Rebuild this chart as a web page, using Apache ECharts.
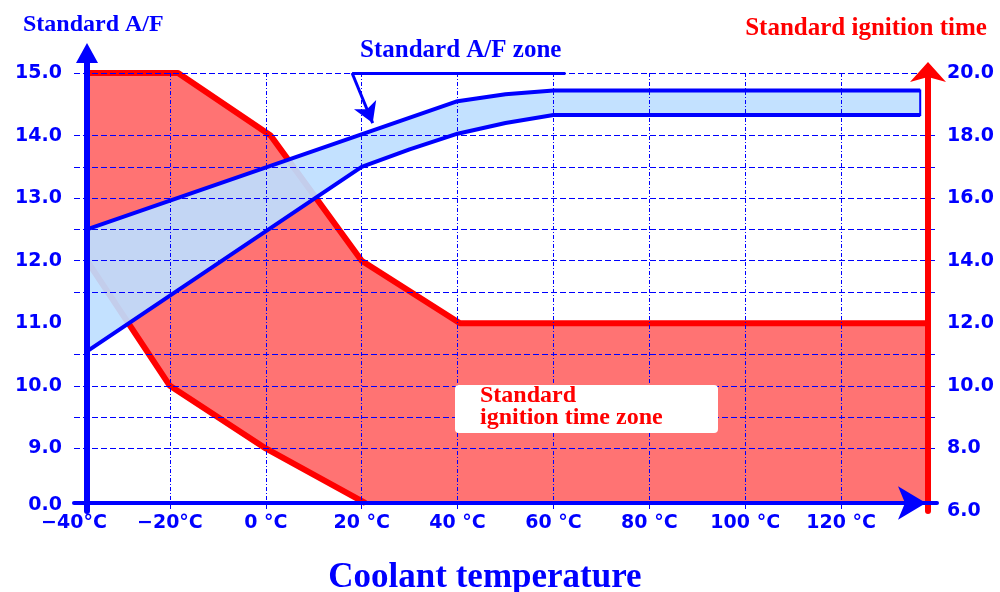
<!DOCTYPE html>
<html><head><meta charset="utf-8">
<script src="https://cdn.jsdelivr.net/npm/echarts@6.0.0/dist/echarts.min.js"></script>
<style>html,body{margin:0;padding:0;background:#fff}#c{width:1000px;height:592px}</style>
</head><body><div id="c"></div>
<script>
// ---- tick values / labels ----
const xTickValues = [-40, -20, 0, 20, 40, 60, 80, 100, 120];
const xTickLabels = ['−40°C', '−20°C', '0 °C', '20 °C', '40 °C', '60 °C', '80 °C', '100 °C', '120 °C'];
const xGridValues = [-20, 0, 20, 40, 60, 80, 100, 120];
const afTickValues = [8.1, 9, 10, 11, 12, 13, 14, 15];
const afTickLabels = ['0.0', '9.0', '10.0', '11.0', '12.0', '13.0', '14.0', '15.0'];
const ignGridValues = [8, 9, 10, 11, 13, 14, 15, 16, 17, 18, 20];
const gridTopAF = 15, gridOvershootAF = 15.53;

// ---- Standard A/F zone (left axis) ----
const afUpperTemp = [-37.3, 40, 50, 60, 136.5];
const afUpper = [12.5, 14.55, 14.66, 14.72, 14.72];
const afLowerTemp = [-37.3, 20, 30, 40, 50, 60, 136.5];
const afLower = [10.55, 13.5, 13.78, 14.03, 14.2, 14.33, 14.33];

// ---- Standard ignition time zone (right axis) ----
const ignUpperTemp = [-37.3, -18.3, 1, 20, 40.5, 138.3];
const ignUpper = [20, 20, 18, 14, 12, 12];
const ignLowerTemp = [-37.3, -20, 0, 20.8, 138.3];
const ignLower = [14, 10, 8, 6.25, 6.25];

// ---- callout for "Standard A/F zone" (left axis units) ----
const calloutStart = [18, 15];
const calloutBarEnd = [62.5, 15];
const calloutArrowEnd = [22.3, 14.2];

const BLUE = '#0000ff', RED = '#ff0000';
const zip = (xs, ys) => xs.map((x, i) => [x, ys[i]]);

function polygonRender(xs1, ys1, xs2, ys2, style) {
  return function (params, api) {
    const pts = [];
    for (let i = 0; i < xs1.length; i++) pts.push(api.coord([xs1[i], ys1[i]]));
    for (let i = xs2.length - 1; i >= 0; i--) pts.push(api.coord([xs2[i], ys2[i]]));
    return { type: 'polygon', shape: { points: pts }, style: style };
  };
}

const labelFont = { color: BLUE, fontFamily: 'DejaVu Sans', fontWeight: 'bold', fontSize: 19 };
const serif = 'Liberation Serif';
const gridExtension = xGridValues.map(x => [{ coord: [x, gridTopAF], symbol: 'none' }, { coord: [x, gridOvershootAF], symbol: 'none' }]);

const chart = echarts.init(document.getElementById('c'), null, { renderer: 'canvas' });
chart.setOption({
  animation: false,
  backgroundColor: '#ffffff',
  grid: { left: 74, right: 63, top: 73, bottom: 81, containLabel: false, outerBoundsMode: 'none' },
  xAxis: {
    type: 'value', min: -40, max: 140, interval: 20, offset: -8, z: 3,
    axisLine: { show: true, onZero: false, lineStyle: { color: BLUE, width: 4 },
      symbol: ['none', 'arrow'], symbolSize: [25, 28], symbolOffset: [0, -11] },
    axisTick: { show: false, customValues: xGridValues },
    splitLine: { show: true, lineStyle: { color: BLUE, width: 1, type: [4, 2, 1, 2] } },
    axisLabel: Object.assign({ customValues: xTickValues, margin: 11,
      formatter: v => xTickLabels[xTickValues.indexOf(Math.round(v))] || '' }, labelFont)
  },
  yAxis: [{
    type: 'value', position: 'left', min: 8, max: 15, offset: -13, z: 3,
    axisLine: { show: true, onZero: false, lineStyle: { color: BLUE, width: 6 },
      symbol: ['none', 'path://M11,0L22,20L14,20L14,30L8,30L8,20L0,20Z'], symbolSize: [22, 30], symbolOffset: [0, 15] },
    axisTick: { show: false },
    splitLine: { show: false },
    axisLabel: Object.assign({ customValues: afTickValues, margin: 25,
      formatter: v => { let k = 0; afTickValues.forEach((t, i) => { if (Math.abs(t - v) < Math.abs(afTickValues[k] - v)) k = i; }); return afTickLabels[k]; } }, labelFont)
  }, {
    type: 'value', position: 'right', min: 6, max: 20, interval: 2, offset: -9, z: 3,
    axisLine: { show: true, onZero: false, lineStyle: { color: RED, width: 6 },
      symbol: ['none', 'arrow'], symbolSize: [27, 20], symbolOffset: [0, 11] },
    axisTick: { show: false, customValues: ignGridValues },
    splitLine: { show: true, lineStyle: { color: BLUE, width: 1, type: [6, 3] } },
    axisLabel: Object.assign({ margin: 19, formatter: v => v.toFixed(1) }, labelFont)
  }],
  series: [
    { type: 'custom', name: 'ignition zone fill', yAxisIndex: 1, z: 1, silent: true, data: [[0, 0]],
      renderItem: polygonRender(ignUpperTemp, ignUpper, ignLowerTemp, ignLower, { fill: 'rgba(255,0,0,0.55)' }) },
    { type: 'line', name: 'ignition upper', yAxisIndex: 1, z: 1, silent: true, symbol: 'none',
      lineStyle: { color: RED, width: 6 }, data: zip(ignUpperTemp, ignUpper) },
    { type: 'line', name: 'ignition lower', yAxisIndex: 1, z: 1, silent: true, symbol: 'none',
      lineStyle: { color: RED, width: 6 }, data: zip(ignLowerTemp.slice(0, 4), ignLower.slice(0, 4)) },
    { type: 'custom', name: 'A/F zone fill', yAxisIndex: 0, z: 2, silent: true, data: [[0, 0]],
      renderItem: polygonRender(afUpperTemp, afUpper, afLowerTemp, afLower,
        { fill: 'rgba(190,222,255,0.92)', stroke: BLUE, lineWidth: 2 }) },
    { type: 'line', name: 'A/F upper', yAxisIndex: 0, z: 2, silent: true, symbol: 'none',
      lineStyle: { color: BLUE, width: 4 }, data: zip(afUpperTemp, afUpper),
      markLine: { silent: true, animation: false, label: { show: false }, emphasis: { disabled: true },
        lineStyle: { color: BLUE, width: 3, type: 'solid' },
        data: [
          [{ coord: calloutStart, symbol: 'none' }, { coord: calloutBarEnd, symbol: 'none' }],
          [{ coord: calloutStart, symbol: 'none' }, { coord: calloutArrowEnd, symbol: 'arrow', symbolSize: [18, 20] }]
        ] } },
    { type: 'line', name: 'A/F lower', yAxisIndex: 0, z: 2, silent: true, symbol: 'none',
      lineStyle: { color: BLUE, width: 4 }, data: zip(afLowerTemp, afLower),
      markLine: { silent: true, animation: false, label: { show: false }, emphasis: { disabled: true },
        lineStyle: { color: BLUE, width: 1, type: [4, 2, 1, 2] }, data: gridExtension } }
  ],
  graphic: [
    { type: 'text', x: 23, y: 25, z: 50, style: { text: 'Standard A/F', fill: BLUE, font: 'bold 24px "' + serif + '"', align: 'left', verticalAlign: 'middle', textAlign: 'left', textVerticalAlign: 'middle' } },
    { type: 'text', x: 866, y: 29, z: 50, style: { text: 'Standard ignition time', fill: RED, font: 'bold 25px "' + serif + '"', align: 'center', verticalAlign: 'middle', textAlign: 'center', textVerticalAlign: 'middle' } },
    { type: 'text', x: 360, y: 51, z: 50, style: { text: 'Standard A/F zone', fill: BLUE, font: 'bold 25px "' + serif + '"', align: 'left', verticalAlign: 'middle', textAlign: 'left', textVerticalAlign: 'middle' } },
    { type: 'rect', z: 50, shape: { x: 455, y: 385, width: 263, height: 48, r: 4 }, style: { fill: '#ffffff' } },
    { type: 'text', x: 480, y: 396, z: 51, style: { text: 'Standard', fill: RED, font: 'bold 24px "' + serif + '"', align: 'left', verticalAlign: 'middle', textAlign: 'left', textVerticalAlign: 'middle' } },
    { type: 'text', x: 480, y: 418, z: 51, style: { text: 'ignition time zone', fill: RED, font: 'bold 24px "' + serif + '"', align: 'left', verticalAlign: 'middle', textAlign: 'left', textVerticalAlign: 'middle' } },
    { type: 'text', x: 485, y: 578, z: 50, style: { text: 'Coolant temperature', fill: BLUE, font: 'bold 35px "' + serif + '"', align: 'center', verticalAlign: 'middle', textAlign: 'center', textVerticalAlign: 'middle' } }
  ]
});
</script>
</body></html>
